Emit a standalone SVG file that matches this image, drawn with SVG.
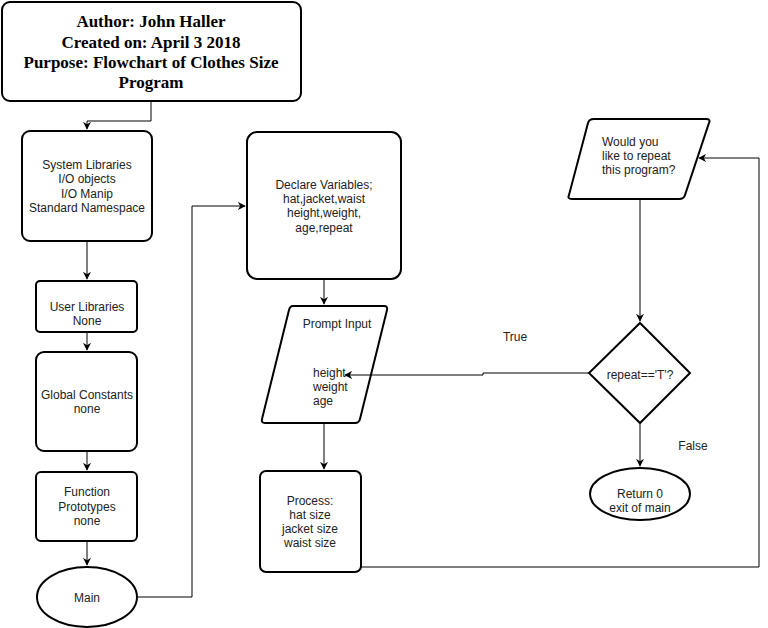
<svg xmlns="http://www.w3.org/2000/svg" width="768" height="628" viewBox="0 0 768 628">
<defs>
<marker id="arr" viewBox="0 0 10 10" refX="9" refY="5" markerWidth="8" markerHeight="8" markerUnits="userSpaceOnUse" orient="auto">
<path d="M0,0 L10,5 L0,10 L3,5 Z" fill="#000"/>
</marker>
<style>
.n{fill:#fff;stroke:#000;stroke-width:2}
.t{font-family:"Liberation Sans",Arial,sans-serif;font-size:12px;fill:#222;text-anchor:middle}
.l{text-anchor:start}
.h{font-family:"Liberation Serif","Times New Roman",serif;font-size:17px;font-weight:bold;fill:#000;text-anchor:middle}
.c{fill:none;stroke:#000;stroke-width:1}
</style>
</defs>
<rect width="768" height="628" fill="#fff"/>
<g id="header">
<rect class="n" x="2" y="2" width="299" height="99" rx="8"/>
<text class="h" x="151" y="27">Author: John Haller</text>
<text class="h" x="151" y="48">Created on: April 3 2018</text>
<text class="h" x="151" y="68">Purpose: Flowchart of Clothes Size</text>
<text class="h" x="151" y="88">Program</text>
</g>
<g id="system-libraries">
<rect class="n" x="22" y="131" width="130" height="110" rx="8"/>
<text class="t" x="87" y="169">System Libraries</text>
<text class="t" x="87" y="183">I/O objects</text>
<text class="t" x="87" y="198">I/O Manip</text>
<text class="t" x="87" y="212">Standard Namespace</text>
</g>
<g id="user-libraries">
<rect class="n" x="36" y="281" width="101" height="51" rx="4"/>
<text class="t" x="87" y="311">User Libraries</text>
<text class="t" x="87" y="325">None</text>
</g>
<g id="global-constants">
<rect class="n" x="36" y="352" width="101" height="99" rx="8"/>
<text class="t" x="87" y="399">Global Constants</text>
<text class="t" x="87" y="413">none</text>
</g>
<g id="function-prototypes">
<rect class="n" x="36" y="472" width="101" height="69" rx="5"/>
<text class="t" x="87" y="496">Function</text>
<text class="t" x="87" y="511">Prototypes</text>
<text class="t" x="87" y="525">none</text>
</g>
<g id="main">
<ellipse class="n" cx="87" cy="597" rx="50" ry="30"/>
<text class="t" x="87" y="602">Main</text>
</g>
<g id="declare-variables">
<rect class="n" x="247" y="132" width="154" height="147" rx="10"/>
<text class="t" x="324" y="189">Declare Variables;</text>
<text class="t" x="324" y="203">hat,jacket,waist</text>
<text class="t" x="324" y="217">height,weight,</text>
<text class="t" x="324" y="232">age,repeat</text>
</g>
<g id="prompt-input">
<path class="n" d="M293,306 H384 Q388,306 387,310 L360,419 Q359,423 355,423 H265 Q261,423 262,419 L289,310 Q290,306 293,306 Z"/>
<text class="t" x="337" y="328">Prompt Input</text>
<text class="t l" x="313" y="377">height</text>
<text class="t l" x="313" y="391">weight</text>
<text class="t l" x="313" y="405">age</text>
</g>
<g id="process">
<rect class="n" x="260" y="471" width="101" height="101" rx="6"/>
<text class="t" x="310" y="505">Process:</text>
<text class="t" x="310" y="519">hat size</text>
<text class="t" x="310" y="533">jacket size</text>
<text class="t" x="310" y="547">waist size</text>
</g>
<g id="repeat-prompt">
<path class="n" d="M594,119 H706 Q711,119 709,123 L685,195 Q684,199 679,199 H572 Q567,199 569,195 L588,123 Q589,119 594,119 Z"/>
<text class="t l" x="602" y="146">Would you</text>
<text class="t l" x="602" y="160">like to repeat</text>
<text class="t l" x="602" y="174">this program?</text>
</g>
<g id="decision">
<path class="n" d="M640,323 L690,373 L640,423 L589,373 Z"/>
<text class="t" x="640" y="379">repeat=='T'?</text>
</g>
<g id="return">
<ellipse class="n" cx="640" cy="494" rx="50" ry="26"/>
<text class="t" x="640" y="498">Return 0</text>
<text class="t" x="640" y="512">exit of main</text>
</g>
<g id="connectors">
<path class="c" d="M151,101 V121 H87 V129" marker-end="url(#arr)"/>
<path class="c" d="M87,241 V279" marker-end="url(#arr)"/>
<path class="c" d="M87,332 V350" marker-end="url(#arr)"/>
<path class="c" d="M87,451 V470" marker-end="url(#arr)"/>
<path class="c" d="M87,541 V565" marker-end="url(#arr)"/>
<path class="c" d="M137,597 H192 V206 H245" marker-end="url(#arr)"/>
<path class="c" d="M324,279 V304" marker-end="url(#arr)"/>
<path class="c" d="M324,423 V469" marker-end="url(#arr)"/>
<path class="c" d="M361,567 H759 V158 H699" marker-end="url(#arr)"/>
<path class="c" d="M640,199 V321" marker-end="url(#arr)"/>
<path class="c" d="M589,373 H483 V375 H345" marker-end="url(#arr)"/>
<path class="c" d="M640,423 V466" marker-end="url(#arr)"/>
<text class="t" x="515" y="341">True</text>
<text class="t" x="693" y="450">False</text>
</g>
</svg>
